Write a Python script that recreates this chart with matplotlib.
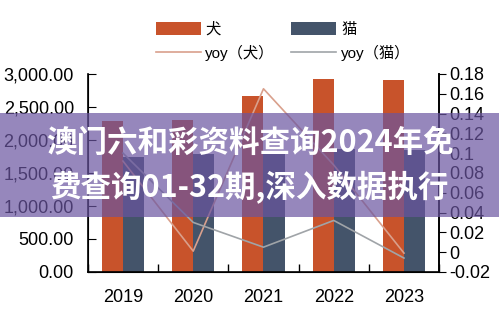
import matplotlib.pyplot as plt
import numpy as np
from matplotlib.patches import Rectangle
from matplotlib.ticker import FuncFormatter, FixedLocator

plt.rcParams['font.family'] = ['Liberation Sans', 'Noto Sans CJK SC']

years = ['2019', '2020', '2021', '2022', '2023']
dog = [2290, 2300, 2670, 2920, 2910]
cat = [1740, 1790, 1800, 1857, 1846]
yoy_dog = [0.092, 0.001, 0.165, 0.088, -0.001]
yoy_cat = [0.100, 0.030, 0.005, 0.032, -0.006]
banner = ['澳门六和彩资料查询2024年免', '费查询01-32期,深入数据执行']

c_dog = '#c8532b'
c_cat = '#44546a'
c_ydog = '#d9a08c'
c_ycat = '#a0a4a8'

fig = plt.figure(figsize=(4.99, 3.30), dpi=100)
ax = fig.add_axes([0.176, 0.176, 0.704, 0.600])
x = np.arange(len(years))
w = 0.3
b1 = ax.bar(x - w / 2, dog, w, color=c_dog, label='犬')
b2 = ax.bar(x + w / 2, cat, w, color=c_cat, label='猫')
ax.set_xlim(-0.5, 4.5)
ax.set_ylim(0, 3000)
ax.set_yticks(np.arange(0, 3001, 500))
ax.yaxis.set_major_formatter(FuncFormatter(lambda v, p: f'{v:,.2f}'))
ax.set_xticks(x)
ax.set_xticklabels(years)
ax.xaxis.set_minor_locator(FixedLocator(np.arange(-0.5, 4.6, 1)))
ax.tick_params(axis='x', which='major', length=0, labelsize=13, pad=12)
ax.tick_params(axis='x', which='minor', direction='in', length=6, width=1)
ax.tick_params(axis='y', direction='in', length=6, labelsize=13, pad=10)
ax.spines['top'].set_visible(False)
for s in ['left', 'bottom', 'right']:
    ax.spines[s].set_linewidth(1.2)

ax2 = ax.twinx()
l1, = ax2.plot(x, yoy_dog, color=c_ydog, lw=1.2, label='yoy（犬）')
l2, = ax2.plot(x, yoy_cat, color=c_ycat, lw=1.2, label='yoy（猫）')
ax2.set_ylim(-0.02, 0.18)
ax2.set_yticks(np.arange(-0.02, 0.181, 0.02))
ax2.yaxis.set_major_formatter(FuncFormatter(lambda v, p: f'{round(v, 2):g}'))
ax2.tick_params(axis='y', direction='out', length=5, labelsize=13, pad=2)
ax2.spines['top'].set_visible(False)
ax2.spines['right'].set_linewidth(1.2)

# ncol=2 fills column by column
fig.legend([b1, l1, b2, l2], ['犬', 'yoy（犬）', '猫', 'yoy（猫）'],
           ncol=2, loc='upper center', bbox_to_anchor=(0.567, 0.975),
           frameon=False, fontsize=11, handlelength=2.95, handleheight=0.9,
           columnspacing=1.1, handletextpad=0.3, labelspacing=0.55)

fig.patches.append(Rectangle((0, 0.342), 1, 0.316, transform=fig.transFigure,
                             facecolor='#6a55a0', alpha=0.7, zorder=10))
fig.text(0.5, 0.567, banner[0], color='white', fontsize=22, fontweight='bold',
         ha='center', va='center', zorder=11, family=['Noto Sans CJK SC'])
fig.text(0.5, 0.43, banner[1], color='white', fontsize=22, fontweight='bold',
         ha='center', va='center', zorder=11, family=['Noto Sans CJK SC'])

fig.savefig('out.png', dpi=100)
